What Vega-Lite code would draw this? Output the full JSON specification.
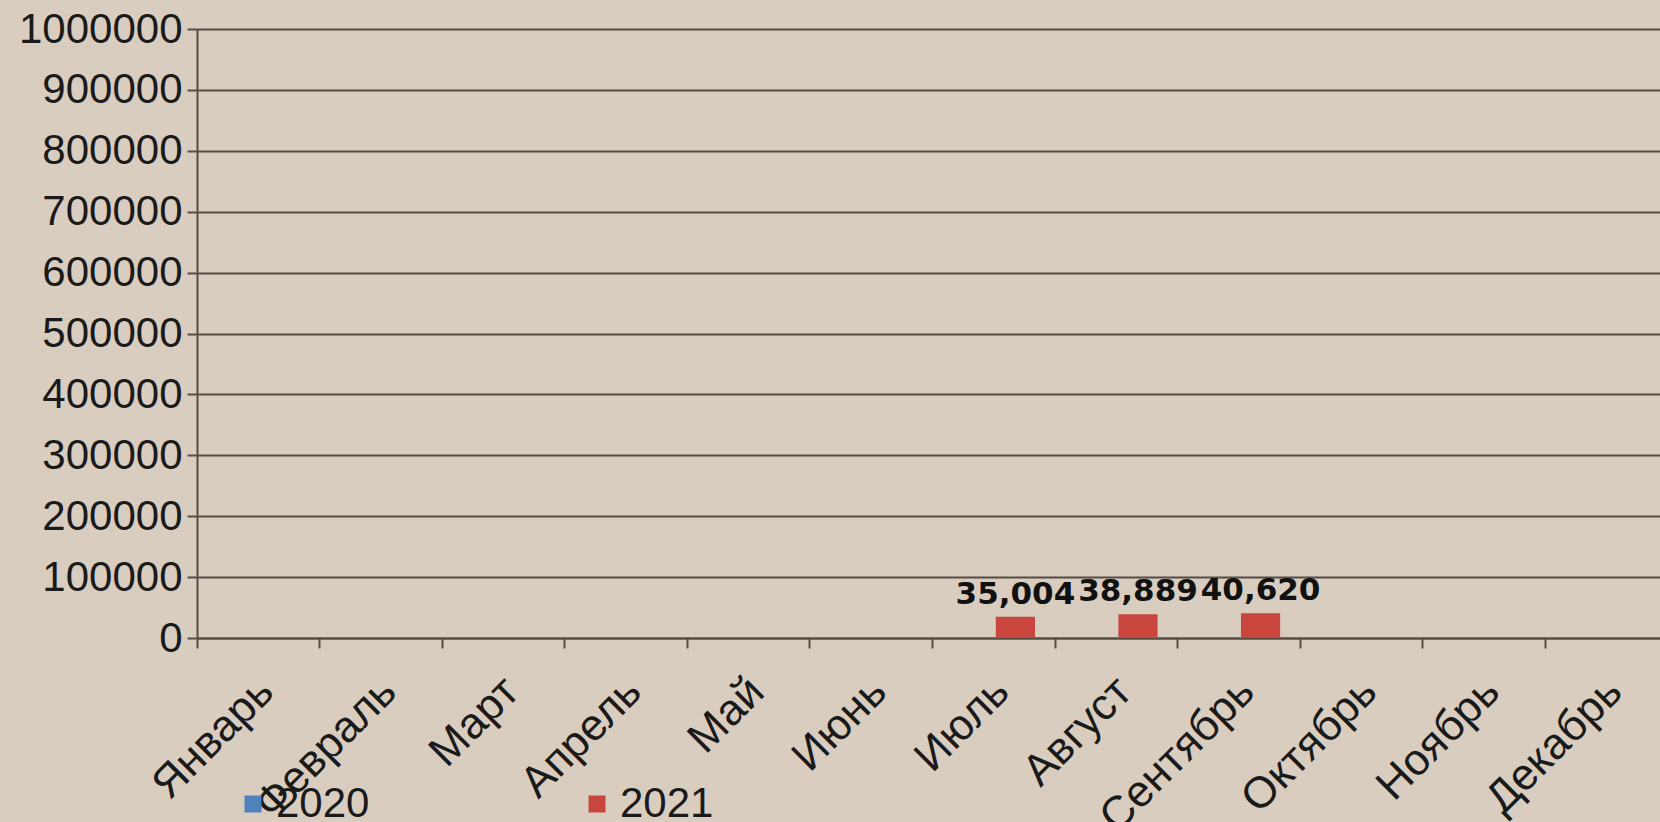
{
  "$schema": "https://vega.github.io/schema/vega-lite/v6.json",
  "width": 1471,
  "height": 609,
  "autosize": {"type": "none"},
  "padding": {"left": 197, "top": 29, "right": -8, "bottom": 184},
  "background": "#d9cdc0",
  "config": {"view": {"stroke": null}, "font": "Liberation Sans"},
  "data": {
    "values": [
      {"month": "Январь", "year": "2020", "value": null},
      {"month": "Январь", "year": "2021", "value": null},
      {"month": "Февраль", "year": "2020", "value": null},
      {"month": "Февраль", "year": "2021", "value": null},
      {"month": "Март", "year": "2020", "value": null},
      {"month": "Март", "year": "2021", "value": null},
      {"month": "Апрель", "year": "2020", "value": null},
      {"month": "Апрель", "year": "2021", "value": null},
      {"month": "Май", "year": "2020", "value": null},
      {"month": "Май", "year": "2021", "value": null},
      {"month": "Июнь", "year": "2020", "value": null},
      {"month": "Июнь", "year": "2021", "value": null},
      {"month": "Июль", "year": "2020", "value": null},
      {"month": "Июль", "year": "2021", "value": 35004},
      {"month": "Август", "year": "2020", "value": null},
      {"month": "Август", "year": "2021", "value": 38889},
      {"month": "Сентябрь", "year": "2020", "value": null},
      {"month": "Сентябрь", "year": "2021", "value": 40620},
      {"month": "Октябрь", "year": "2020", "value": null},
      {"month": "Октябрь", "year": "2021", "value": null},
      {"month": "Ноябрь", "year": "2020", "value": null},
      {"month": "Ноябрь", "year": "2021", "value": null},
      {"month": "Декабрь", "year": "2020", "value": null},
      {"month": "Декабрь", "year": "2021", "value": null}
    ]
  },
  "encoding": {
    "x": {
      "field": "month",
      "type": "nominal",
      "sort": ["Январь", "Февраль", "Март", "Апрель", "Май", "Июнь", "Июль", "Август", "Сентябрь", "Октябрь", "Ноябрь", "Декабрь"],
      "scale": {"domain": ["Январь", "Февраль", "Март", "Апрель", "Май", "Июнь", "Июль", "Август", "Сентябрь", "Октябрь", "Ноябрь", "Декабрь"], "paddingInner": 0, "paddingOuter": 0},
      "axis": {
        "title": null,
        "bandPosition": 0,
        "labelOffset": -7,
        "labelAngle": -45,
        "labelAlign": "right",
        "labelBaseline": "top",
        "labelPadding": 21,
        "labelFontSize": 44,
        "labelColor": "#1a1a1a",
        "labelOverlap": false,
        "labelBound": false,
        "labelLimit": 400,
        "tickSize": 10,
        "tickWidth": 2,
        "tickColor": "#574c44",
        "domainColor": "#574c44",
        "domainWidth": 2,
        "grid": false
      }
    },
    "xOffset": {
      "field": "year",
      "type": "nominal",
      "scale": {"domain": ["2020", "2021"], "paddingInner": 0.093, "paddingOuter": 0.465}
    },
    "y": {
      "field": "value",
      "type": "quantitative",
      "scale": {"domain": [0, 1000000], "nice": false},
      "axis": {
        "title": null,
        "values": [0, 100000, 200000, 300000, 400000, 500000, 600000, 700000, 800000, 900000, 1000000],
        "format": "d",
        "labelFontSize": 42,
        "labelColor": "#1a1a1a",
        "labelPadding": 5,
        "labelBound": false,
        "tickSize": 10,
        "tickWidth": 2,
        "tickColor": "#574c44",
        "domainColor": "#574c44",
        "domainWidth": 2,
        "grid": true,
        "gridColor": "#574c44",
        "gridWidth": 2,
        "gridOpacity": 1
      }
    }
  },
  "layer": [
    {
      "mark": {"type": "bar"},
      "encoding": {
        "color": {
          "field": "year",
          "type": "nominal",
          "scale": {"domain": ["2020", "2021"], "range": ["#4f81bd", "#c9463f"]},
          "legend": {
            "orient": "none",
            "legendX": 35,
            "legendY": 754,
            "direction": "horizontal",
            "columns": 2,
            "title": null,
            "padding": 0,
            "symbolType": "square",
            "symbolSize": 289,
            "symbolStrokeWidth": 0,
            "symbolOpacity": 1,
            "labelFontSize": 42,
            "labelColor": "#1a1a1a",
            "labelOffset": 2,
            "columnPadding": 206
          }
        }
      }
    },
    {
      "mark": {"type": "text", "font": "DejaVu Sans", "fontWeight": "bold", "fontSize": 31, "dy": -13, "baseline": "alphabetic", "color": "#111111"},
      "encoding": {
        "text": {"field": "value", "type": "quantitative", "format": ","}
      }
    }
  ]
}
